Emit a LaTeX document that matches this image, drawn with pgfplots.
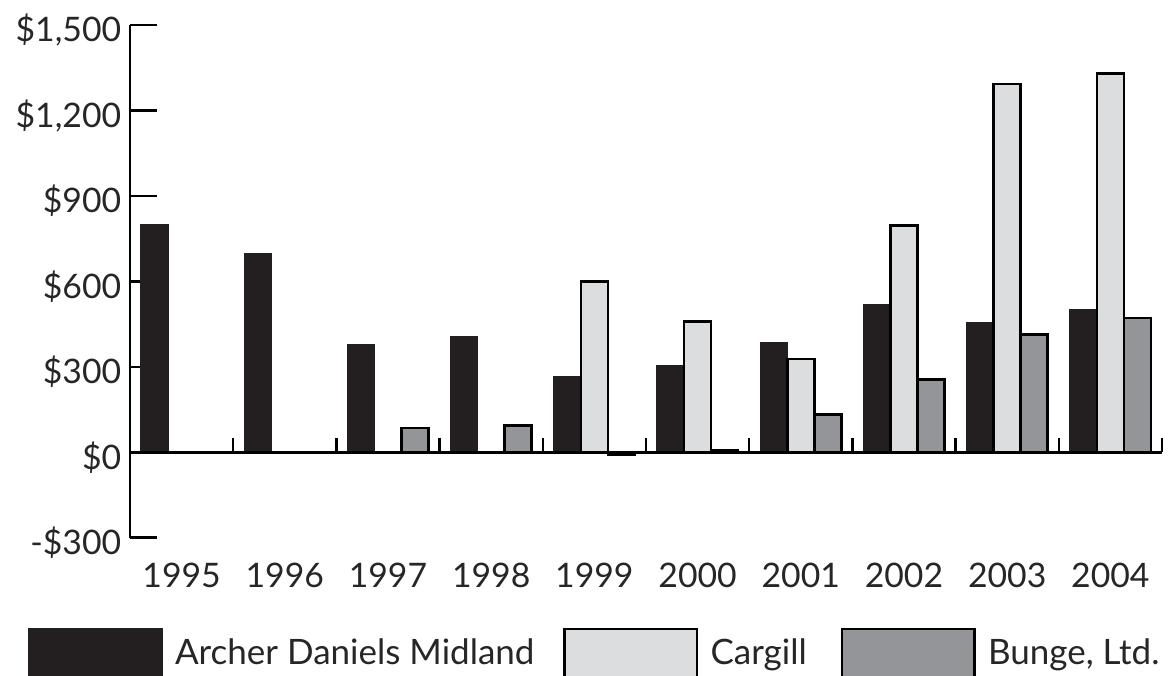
\documentclass[border=0pt]{standalone}
\usepackage{pgfplots}
\pgfplotsset{compat=1.18}
\usepackage{fontspec}
\setmainfont{Lato}
\definecolor{adm}{HTML}{231F20}
\definecolor{carg}{HTML}{DCDDDF}
\definecolor{bunge}{HTML}{939598}
\pgfplotsset{mylegend/.style={legend image code/.code={%
  \draw[##1, line width=1pt] (0pt,-9.6pt) rectangle (53pt,9.6pt);
  \path (58pt,0pt);}}}
\begin{document}
\begin{tikzpicture}
\begin{axis}[
  scale only axis, width=412.8pt, height=205pt,
  xmin=-0.5, xmax=9.5, ymin=-300, ymax=1500,
  axis y line=left, axis x line=bottom,
  x axis line style={draw=none},
  y axis line style={line width=1pt, -},
  xtick={0,...,9},
  xticklabels={1995,1996,1997,1998,1999,2000,2001,2002,2003,2004},
  major x tick style={draw=none},
  ytick={-300,0,300,600,900,1200,1500},
  yticklabels={{-\$300},{\$0},{\$300},{\$600},{\$900},{\$1,200},{\$1,500}},
  ytick align=inside,
  major y tick style={line width=1pt, black},
  major tick length=10.8pt,
  ticklabel style={font=\fontsize{13.5pt}{15pt}\selectfont, text=black!85},
  xticklabel style={yshift=-1pt},
  yticklabel style={yshift=-2pt},
  legend columns=3,
  legend style={at={(-0.0988,-0.176)}, anchor=north west, draw=none, fill=none,
    inner sep=0pt, outer sep=0pt, column sep=0pt,
    font=\fontsize{14pt}{16pt}\selectfont, text=black!85,
    nodes={inner sep=0pt}},
  legend cell align=left,
  clip=false,
]
\addplot[ybar, bar width=10.8pt, bar shift=-10.8pt, fill=adm, draw=adm, line width=0.6pt, mylegend]
  coordinates {(0,800) (1,697) (2,378) (3,405) (4,264) (5,304) (6,386) (7,518) (8,454) (9,500)};
\addlegendentry{\makebox[155.2pt][l]{Archer Daniels Midland}}
\addplot[ybar, bar width=10.8pt, bar shift=0pt, fill=carg, draw=black, line width=1pt, mylegend]
  coordinates {(4,600) (5,460) (6,327) (7,797) (8,1293) (9,1330)};
\addlegendentry{\makebox[52pt][l]{Cargill}}
\addplot[ybar, bar width=10.8pt, bar shift=10.8pt, fill=bunge, draw=black, line width=1pt, mylegend]
  coordinates {(2,85) (3,94) (4,-10) (5,8) (6,132) (7,255) (8,413) (9,471)};
\addlegendentry{Bunge, Ltd.}
\draw[line width=1pt] (axis cs:-0.5,0) -- (axis cs:9.5,0);
\draw[line width=1pt] (axis cs:0.5,0) -- (axis cs:0.5,49);
\draw[line width=1pt] (axis cs:1.5,0) -- (axis cs:1.5,49);
\draw[line width=1pt] (axis cs:2.5,0) -- (axis cs:2.5,49);
\draw[line width=1pt] (axis cs:3.5,0) -- (axis cs:3.5,49);
\draw[line width=1pt] (axis cs:4.5,0) -- (axis cs:4.5,49);
\draw[line width=1pt] (axis cs:5.5,0) -- (axis cs:5.5,49);
\draw[line width=1pt] (axis cs:6.5,0) -- (axis cs:6.5,49);
\draw[line width=1pt] (axis cs:7.5,0) -- (axis cs:7.5,49);
\draw[line width=1pt] (axis cs:8.5,0) -- (axis cs:8.5,49);
\draw[line width=1pt] (axis cs:9.5,0) -- (axis cs:9.5,49);
\end{axis}
\pgfresetboundingbox
\path ([shift={(-52pt,-55.3pt)}]current axis.south west) rectangle ([shift={(417.2pt,215.1pt)}]current axis.south west);
\end{tikzpicture}
\end{document}
